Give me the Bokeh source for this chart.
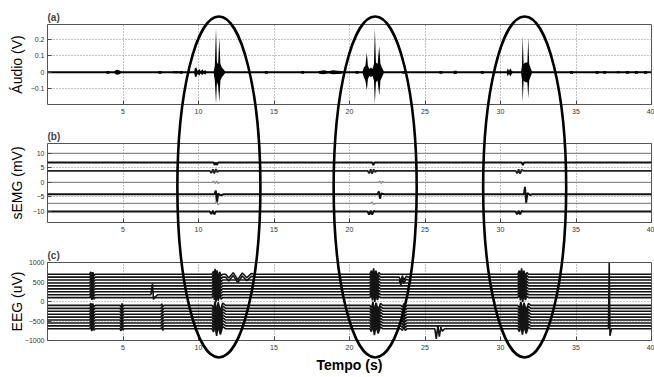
from bokeh.plotting import figure
from bokeh.layouts import column
from bokeh.models import Range1d, FixedTicker
from bokeh.embed import file_html
from bokeh.resources import INLINE

# ---------------- data ----------------
x_ticks = [5, 10, 15, 20, 25, 30, 35, 40]

# (a) audio: burst envelopes (time, upper, lower)
audio_t = [4.40, 4.50, 4.65, 4.80, 4.90,
           9.70, 9.76, 9.85, 9.95, 10.05, 10.15, 10.25, 10.35, 10.45, 10.55,
           11.00, 11.08, 11.16, 11.22, 11.30, 11.38, 11.45, 11.55, 11.68, 11.80,
           17.90, 18.00, 18.30, 18.60, 18.90, 19.20, 19.50, 19.60,
           20.85, 20.95, 21.05, 21.15, 21.22, 21.32, 21.42, 21.52, 21.62, 21.68, 21.75, 21.86, 21.97, 22.05, 22.15, 22.30,
           30.40, 30.48, 30.56, 30.65, 30.75, 30.85,
           31.35, 31.42, 31.47, 31.53, 31.65, 31.78, 31.84, 31.90, 32.00, 32.10]
audio_hi = [0, 0.012, 0.015, 0.010, 0,
            0, 0.025, 0.030, 0.008, 0.020, 0.006, 0.018, 0.006, 0.014, 0,
            0, 0.04, 0.27, 0.06, 0.05, 0.21, 0.05, 0.03, 0.015, 0,
            0, 0.008, 0.012, 0.006, 0.012, 0.010, 0.008, 0,
            0, 0.03, 0.04, 0.12, 0.04, 0.02, 0.03, 0.02, 0.05, 0.27, 0.06, 0.05, 0.16, 0.05, 0.03, 0,
            0, 0.025, 0.008, 0.025, 0.008, 0,
            0, 0.04, 0.22, 0.05, 0.06, 0.06, 0.21, 0.05, 0.025, 0]
audio_lo = [0, -0.012, -0.015, -0.010, 0,
            0, -0.025, -0.030, -0.008, -0.020, -0.006, -0.018, -0.006, -0.014, 0,
            0, -0.05, -0.19, -0.06, -0.08, -0.18, -0.05, -0.03, -0.015, 0,
            0, -0.008, -0.012, -0.006, -0.012, -0.010, -0.008, 0,
            0, -0.03, -0.05, -0.11, -0.04, -0.02, -0.03, -0.02, -0.05, -0.19, -0.06, -0.05, -0.14, -0.05, -0.03, 0,
            0, -0.025, -0.008, -0.025, -0.008, 0,
            0, -0.04, -0.18, -0.05, -0.06, -0.06, -0.16, -0.05, -0.025, 0]
audio_dot_t = [4.0, 7.45, 8.4, 8.6, 8.85, 14.5, 16.9, 20.5, 23.6, 26.05, 27.0, 28.8,
               34.7, 36.4, 36.9, 37.8, 38.4, 39.0, 39.6]
audio_dot_amp = [0.008, 0.008, 0.006, 0.006, 0.008, 0.008, 0.008, 0.008, 0.008, 0.008, 0.010, 0.008,
                 0.008, 0.008, 0.008, 0.006, 0.008, 0.008, 0.008]

# (b) sEMG: channel offsets and events (time, deviation)
emg_offsets = [10.0, 6.9, 4.0, 0.0, -4.1, -7.2, -10.0]
emg_events = [
    [],
    [(11.0, 0), (11.08, -0.9), (11.15, 0), (11.22, -0.9), (11.3, 0),
     (21.5, 0), (21.58, -0.9), (21.66, 0), (31.4, 0), (31.48, -0.9), (31.56, 0)],
    [(10.75, 0), (10.85, -0.8), (10.95, 0.5), (11.05, -0.9), (11.15, 0.6), (11.25, -0.4), (11.35, 0),
     (21.2, 0), (21.3, -0.9), (21.4, 0.5), (21.5, -1.0), (21.6, 0.5), (21.7, -0.4), (21.8, 0),
     (31.0, 0), (31.1, -0.9), (31.2, 0.5), (31.3, -1.0), (31.4, 0.4), (31.5, 0)],
    [(10.9, 0), (11.0, 0.4), (11.1, -0.3), (11.2, 0.4), (11.3, -0.3), (11.4, 0),
     (21.9, 0), (22.0, 0.4), (22.1, -0.3), (22.2, 0.3), (22.3, 0)],
    [(11.05, 0), (11.15, 1.3), (11.22, -3.0), (11.3, 0.3), (11.45, -0.3), (11.7, 0),
     (21.85, 0), (21.95, 1.0), (22.02, -1.5), (22.1, 0.3), (22.3, 0),
     (31.55, 0), (31.62, 2.6), (31.7, -3.0), (31.78, 0.4), (31.95, -0.2), (32.1, 0)],
    [(11.1, 0), (11.2, 0.5), (11.3, -0.5), (11.4, 0), (21.4, 0), (21.5, 0.4), (21.6, -0.4), (21.7, 0)],
    [(10.75, 0), (10.85, -0.9), (10.95, 0.3), (11.05, -1.0), (11.15, 0),
     (21.2, 0), (21.3, -1.1), (21.4, 0.3), (21.5, -1.1), (21.6, 0.2), (21.7, 0),
     (31.0, 0), (31.1, -1.0), (31.2, 0.3), (31.3, -1.0), (31.4, 0.2), (31.5, 0)],
]

# (c) EEG: channel offsets and events (channels, [(time, deviation)])
eeg_offsets = [700, 625, 550, 475, 400, 325, 250, 175, 100,
               -100, -175, -250, -325, -400, -475, -550, -625, -700]
eeg_upper = [0, 1, 2, 3, 4, 5, 6, 7, 8]
eeg_lower = [9, 10, 11, 12, 13, 14, 15, 16, 17]
eeg_events = [
    (eeg_upper + eeg_lower, [(2.8, 0), (2.87, 60), (2.93, -60), (3.0, 50), (3.07, -40), (3.15, 0)]),
    (eeg_lower, [(4.8, 0), (4.87, -50), (4.93, 50), (5.0, -30), (5.07, 0)]),
    ([7], [(6.85, 0), (6.95, 280), (7.02, -120), (7.12, -60), (7.3, 0)]),
    (eeg_lower, [(7.5, 0), (7.57, 40), (7.63, -40), (7.7, 0)]),
    (eeg_upper, [(10.9, 0), (11.0, 80), (11.05, -60), (11.1, 140), (11.15, -120), (11.22, 100),
                 (11.3, -80), (11.4, 60), (11.5, -40), (11.6, 0)]),
    ([0, 1], [(11.8, 0), (12.0, -100), (12.3, 40), (12.6, -140), (12.9, 30), (13.2, -90), (13.5, 20), (13.7, 0)]),
    (eeg_lower, [(10.9, 0), (11.0, -80), (11.1, 100), (11.2, -180), (11.3, 80), (11.45, -150), (11.6, 60), (11.8, 0)]),
    (eeg_upper, [(21.35, 0), (21.45, 90), (21.52, -70), (21.6, 150), (21.67, -110), (21.75, 90),
                 (21.85, -60), (21.95, 40), (22.05, 0)]),
    (eeg_lower, [(21.35, 0), (21.45, -70), (21.55, 90), (21.65, -160), (21.75, 70), (21.9, -120), (22.05, 50), (22.2, 0)]),
    ([1, 2], [(23.3, 0), (23.4, -120), (23.5, 40), (23.6, -80), (23.75, 20), (23.9, 0)]),
    (eeg_lower, [(23.4, 0), (23.5, -40), (23.6, 50), (23.7, -40), (23.8, 0)]),
    ([17], [(25.65, 0), (25.75, -260), (25.85, 80), (25.95, -200), (26.05, 40), (26.15, -60), (26.3, 0)]),
    (eeg_upper, [(31.15, 0), (31.25, 90), (31.32, -70), (31.4, 150), (31.47, -110), (31.55, 90),
                 (31.65, -60), (31.75, 40), (31.85, 0)]),
    (eeg_lower, [(31.15, 0), (31.25, -70), (31.35, 90), (31.45, -150), (31.55, 70), (31.7, -120), (31.85, 50), (32.0, 0)]),
    ([17], [(37.15, 0), (37.2, 1690), (37.25, -180), (37.35, 0)]),
]

# highlighted regions (ellipses): centre time, width in s
ellipse_centers = [11.35, 21.7, 31.6]
ellipse_width = 5.5

# ---------------- helpers ----------------
FONT = "Liberation Sans"
X0, X1 = 0, 40
W, H = 654, 377


def trace(offset, pts):
    pts = sorted(pts)
    xs = [X0] + [t for t, _ in pts] + [X1]
    ys = [offset] + [offset + d for _, d in pts] + [offset]
    return xs, ys


def make_fig(h, top, bottom, yr, yticks, ylabel, lab_standoff, title):
    p = figure(width=W, height=h, x_range=Range1d(X0, X1), y_range=Range1d(*yr),
               output_backend="svg", toolbar_location=None, title=title,
               min_border_left=47, min_border_right=3, min_border_top=top, min_border_bottom=bottom)
    p.title.text_font = FONT
    p.title.text_font_size = "10px"
    p.title.text_font_style = "bold"
    p.title.align = "left"
    p.title.offset = 0
    p.title.standoff = 3
    p.xaxis.ticker = FixedTicker(ticks=x_ticks)
    p.yaxis.ticker = FixedTicker(ticks=yticks)
    for ax in (p.xaxis, p.yaxis):
        ax.major_tick_in = 4
        ax.major_tick_out = 0
        ax.minor_tick_line_color = None
        ax.axis_line_color = None
        ax.major_tick_line_color = "#444444"
        ax.major_label_text_font = FONT
        ax.major_label_text_font_size = "7px"
        ax.major_label_text_color = "#333333"
    p.xaxis.major_label_standoff = 4
    p.yaxis.major_label_standoff = 3
    p.yaxis.axis_label = ylabel
    p.yaxis.axis_label_text_font = FONT
    p.yaxis.axis_label_text_font_size = "14px"
    p.yaxis.axis_label_text_font_style = "normal"
    p.yaxis.axis_label_text_color = "black"
    p.yaxis.axis_label_standoff = lab_standoff
    p.outline_line_color = "#555555"
    p.outline_line_width = 1
    p.grid.grid_line_color = "#888888"
    p.grid.grid_line_dash = "1 2"
    p.grid.grid_line_width = 1
    return p


# ---------------- (a) ----------------
pa = make_fig(120, 24, 16, (-0.195, 0.29), [-0.1, 0, 0.1, 0.2], "Áudio (V)", 3, "(a)")
pa.line([X0, X1], [0, 0], line_color="black", line_width=2)
pa.varea(x=audio_t, y1=audio_lo, y2=audio_hi, fill_color="black")
pa.segment(x0=audio_dot_t, y0=[-a for a in audio_dot_amp], x1=audio_dot_t, y1=audio_dot_amp,
           line_color="black", line_width=3)

# ---------------- (b) ----------------
pb = make_fig(120, 23, 18, (-13.8, 13.4), [-10, -5, 0, 5, 10], "sEMG (mV)", 5, "(b)")
emg_colors = ["#8a8a8a", "#111111", "#222222", "#8a8a8a", "#111111", "#8a8a8a", "#111111"]
emg_widths = [1.4, 2.0, 1.8, 1.4, 2.0, 1.4, 2.0]
for off, ev, c, w in zip(emg_offsets, emg_events, emg_colors, emg_widths):
    xs, ys = trace(off, ev)
    pb.line(xs, ys, line_color=c, line_width=w)

# ---------------- (c) ----------------
pc = make_fig(137, 22, 37, (-1000, 1000), [-1000, -500, 0, 500, 1000], "EEG (uV)", -3, "(c)")
pc.xaxis.axis_label = "Tempo (s)"
pc.xaxis.axis_label_text_font = FONT
pc.xaxis.axis_label_text_font_size = "14px"
pc.xaxis.axis_label_text_font_style = "bold"
pc.xaxis.axis_label_text_color = "black"
pc.xaxis.axis_label_standoff = 4
ch_events = [[] for _ in eeg_offsets]
for chans, pts in eeg_events:
    for c in chans:
        ch_events[c].extend(pts)
eeg_xs, eeg_ys = [], []
for off, ev in zip(eeg_offsets, ch_events):
    xs, ys = trace(off, ev)
    eeg_xs.append(xs)
    eeg_ys.append(ys)
pc.multi_line(eeg_xs, eeg_ys, line_color="#141414", line_width=1.6)

# ---------------- overlay with the ellipses (spans all three panels) ----------------
po = figure(width=W, height=H, x_range=Range1d(X0, X1), y_range=Range1d(H, 0),
            output_backend="svg", toolbar_location=None, x_axis_type=None, y_axis_type=None,
            min_border_left=47, min_border_right=3, min_border_top=0, min_border_bottom=0,
            background_fill_color=None, border_fill_color=None, outline_line_color=None,
            margin=(-H, 0, 0, 0))
po.grid.visible = False
po.ellipse(x=ellipse_centers, y=[186.5] * len(ellipse_centers), width=ellipse_width, height=341,
           fill_color=None, line_color="black", line_width=2.6)

layout = column(pa, pb, pc, po, spacing=0)
open("out.html", "w").write(file_html(layout, INLINE))
